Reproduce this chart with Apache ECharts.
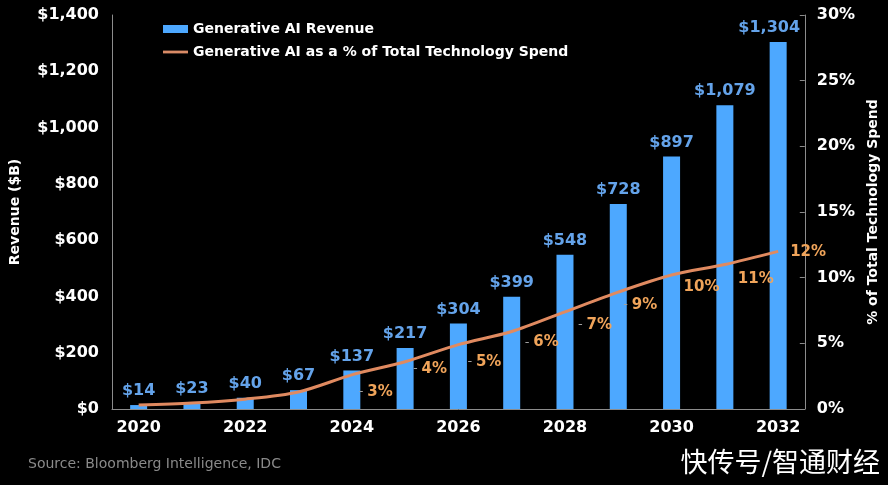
<!DOCTYPE html>
<html><head><meta charset="utf-8">
<script src="https://cdn.jsdelivr.net/npm/echarts@6/dist/echarts.min.js"></script>
<style>html,body{margin:0;padding:0;background:#000;}#c{width:888px;height:485px;}</style>
</head><body><div id="c"></div>
<script>
const years = ['2020','2021','2022','2023','2024','2025','2026','2027','2028','2029','2030','2031','2032'];
const revenue = [14, 23, 40, 67, 137, 217, 304, 399, 548, 728, 897, 1079, 1304];
const pctShare = [0.3, 0.45, 0.75, 1.3, 2.6, 3.6, 4.9, 5.9, 7.4, 8.9, 10.2, 11.0, 12.0];
const pctLabelFrom = 4;
const leftTicks = {min: 0, max: 1400, interval: 200};
const rightTicks = {min: 0, max: 30, interval: 5};

// label placement styling (Excel-like data label positions)
const pctLabelStyle = [
  null, null, null, null,
  {dash: true, off: [1, 17]},
  {dash: true, off: [2, 7]},
  {dash: true, off: [3, 17]},
  {dash: true, off: [7, 11]},
  {dash: true, off: [7, 13]},
  {dash: true, off: [-1, 13]},
  {dash: false, off: [6, 12]},
  {dash: false, off: [7, 15]},
  {dash: false, off: [6, 1]}
];

const FONT = '"DejaVu Sans", Verdana, sans-serif';
const chart = echarts.init(document.getElementById('c'));
const fmtMoney = v => '$' + v.toLocaleString('en-US');

const pctData = pctShare.map((v, i) => {
  const st = pctLabelStyle[i];
  const item = {value: v, label: {show: i >= pctLabelFrom && !!st}};
  if (st) {
    item.label.formatter = p => (st.dash ? '{d|-} ' : '') + '{v|' + Math.round(p.value) + '%}';
    item.label.offset = st.off;
  }
  return item;
});

const revData = revenue.map((v, i) => {
  const item = {value: v};
  if (i === revenue.length - 1) item.label = {offset: [-9, 0]};
  return item;
});

chart.setOption({
  backgroundColor: '#000',
  animation: false,
  textStyle: {fontFamily: FONT},
  grid: {left: 110, right: 83, top: 15, bottom: 76, containLabel: false},
  legend: {
    orient: 'vertical', left: 158, top: 17, itemGap: 9,
    itemWidth: 25, itemHeight: 8,
    textStyle: {color: '#fff', fontWeight: 'bold', fontSize: 14, fontFamily: FONT},
    data: [
      {name: 'Generative AI Revenue', icon: 'rect'},
      {name: 'Generative AI as a % of Total Technology Spend',
       icon: 'path://M0,0 M0,2.6 L25,2.6 L25,5.4 L0,5.4 Z M0,8', itemStyle: {color: '#D98B66'}}
    ]
  },
  xAxis: {
    type: 'category', data: years,
    axisLine: {lineStyle: {color: '#8c8c8c', width: 1}},
    axisTick: {show: false},
    axisLabel: {color: '#fff', fontWeight: 'bold', fontSize: 16, interval: 1, margin: 11, fontFamily: FONT}
  },
  yAxis: [
    {
      type: 'value', min: leftTicks.min, max: leftTicks.max, interval: leftTicks.interval,
      name: 'Revenue ($B)', nameLocation: 'middle', nameGap: 90, nameRotate: 90,
      nameTextStyle: {color: '#fff', fontWeight: 'bold', fontSize: 14, fontFamily: FONT},
      axisLine: {show: true, lineStyle: {color: '#8c8c8c'}},
      axisTick: {show: false},
      splitLine: {show: false},
      axisLabel: {color: '#fff', fontWeight: 'bold', fontSize: 16, margin: 13, formatter: fmtMoney, fontFamily: FONT}
    },
    {
      type: 'value', min: rightTicks.min, max: rightTicks.max, interval: rightTicks.interval,
      position: 'right',
      name: '% of Total Technology Spend', nameLocation: 'middle', nameGap: 60, nameRotate: 90,
      nameTextStyle: {color: '#fff', fontWeight: 'bold', fontSize: 14, fontFamily: FONT},
      axisLine: {show: true, lineStyle: {color: '#8c8c8c'}},
      axisTick: {show: true, inside: true, length: 5, lineStyle: {color: '#8c8c8c'}},
      splitLine: {show: false},
      axisLabel: {color: '#fff', fontWeight: 'bold', fontSize: 16, margin: 12, formatter: '{value}%', fontFamily: FONT}
    }
  ],
  series: [
    {
      name: 'Generative AI Revenue', type: 'bar', data: revData, barWidth: 17,
      itemStyle: {color: '#4DA8FF'},
      label: {show: true, position: 'top', distance: 6, color: '#64A3EA', fontWeight: 'bold', fontSize: 16,
        formatter: p => fmtMoney(p.value), fontFamily: FONT}
    },
    {
      name: 'Generative AI as a % of Total Technology Spend', type: 'line', yAxisIndex: 1,
      data: pctData, smooth: 0.3, symbol: 'circle', symbolSize: 0, showSymbol: true,
      lineStyle: {color: '#E08A60', width: 3},
      itemStyle: {color: '#E08A60'},
      label: {
        position: 'right', distance: 6,
        rich: {
          d: {color: '#a0a0a0', fontSize: 13, fontFamily: FONT},
          v: {color: '#F0A45A', fontWeight: 'bold', fontSize: 15, fontFamily: FONT}
        }
      }
    }
  ],
  graphic: [
    {type: 'text', left: 28, top: 457, style: {text: 'Source: Bloomberg Intelligence, IDC', fill: '#8a8a8a', fontSize: 14, fontFamily: FONT}},
    {type: 'text', right: 8, top: 448, style: {text: '快传号/智通财经', fill: '#fff', fontSize: 27, fontFamily: '"Noto Sans CJK SC", sans-serif'}}
  ]
});
</script>
</body></html>
